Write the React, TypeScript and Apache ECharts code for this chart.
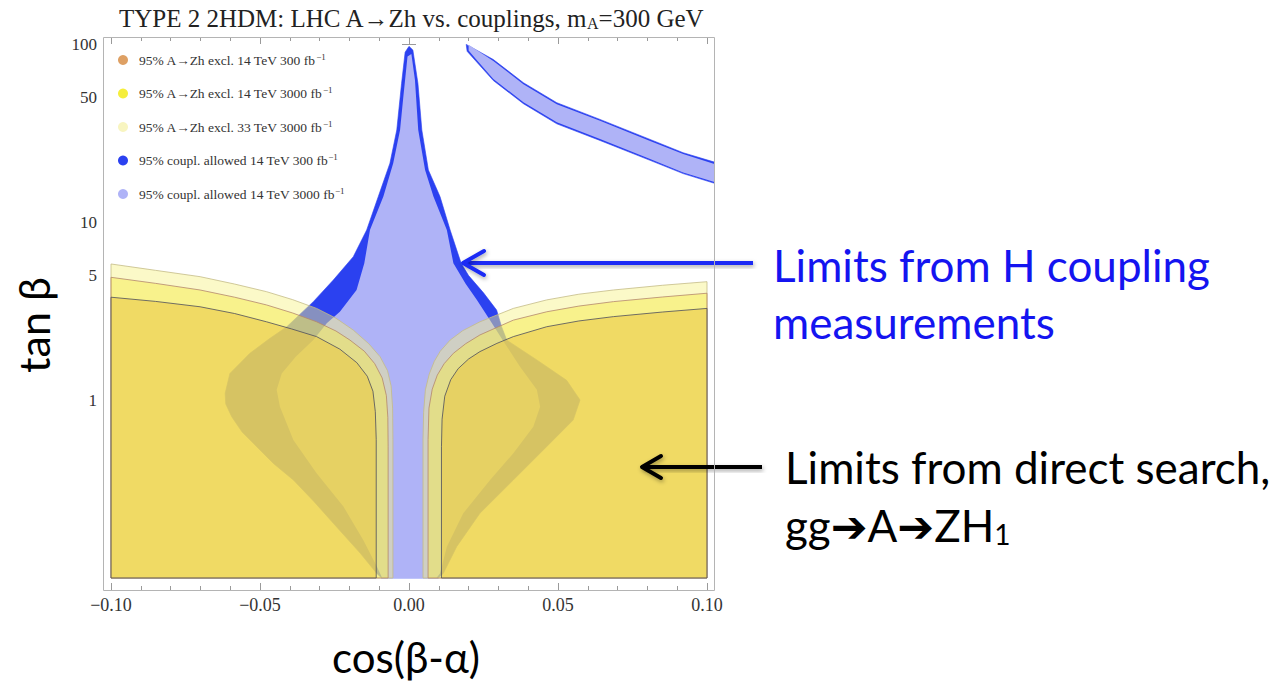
import React, { useEffect, useRef } from 'react';
import * as echarts from 'echarts';

// ---- axis ticks ----
const yTickValues = [1, 5, 10, 50, 100];

// ---- legend names ----
const nameGold = '95% A→Zh excl. 14 TeV 300 fb';
const nameYellow = '95% A→Zh excl. 14 TeV 3000 fb';
const namePale = '95% A→Zh excl. 33 TeV 3000 fb';
const nameBlue = '95% coupl. allowed 14 TeV 300 fb';
const nameLav = '95% coupl. allowed 14 TeV 3000 fb';

// ---- exclusion regions (cos(beta-alpha), tan beta) ----
const goldLeft = [[-0.1,0.1],[-0.1,3.78],[-0.085,3.58],[-0.0701,3.34],[-0.0585,3.06],[-0.0478,2.75],[-0.0395,2.51],[-0.031,2.27],[-0.0232,1.93],[-0.0175,1.62],[-0.014,1.36],[-0.0121,1.12],[-0.0113,0.86],[-0.011,0.6],[-0.011,0.1]];
const goldRight = [[0.0109,0.1],[0.0109,0.55],[0.0111,0.78],[0.012,1.05],[0.014,1.3],[0.0165,1.5],[0.02,1.7],[0.0238,1.87],[0.0295,2.08],[0.035,2.27],[0.0462,2.58],[0.057,2.78],[0.0686,2.94],[0.085,3.12],[0.1,3.27],[0.1,0.1]];
const yellowLeft = [[-0.1,0.1],[-0.1,4.89],[-0.085,4.52],[-0.0701,4.15],[-0.0585,3.78],[-0.0478,3.42],[-0.039,3.08],[-0.031,2.75],[-0.0245,2.44],[-0.0198,2.17],[-0.015,1.88],[-0.0115,1.6],[-0.009,1.33],[-0.0076,1.06],[-0.0071,0.8],[-0.007,0.55],[-0.007,0.1]];
const yellowRight = [[0.0064,0.1],[0.0064,0.6],[0.0067,0.9],[0.0078,1.15],[0.0095,1.38],[0.0118,1.6],[0.0149,1.83],[0.019,2.07],[0.0238,2.32],[0.035,2.81],[0.0462,3.13],[0.057,3.37],[0.0686,3.57],[0.085,3.79],[0.1,3.98],[0.1,0.1]];
const paleLeft = [[-0.1,0.1],[-0.1,5.81],[-0.085,5.35],[-0.0701,4.93],[-0.0585,4.48],[-0.0478,4.06],[-0.039,3.66],[-0.031,3.27],[-0.0245,2.88],[-0.0187,2.47],[-0.0135,2.07],[-0.0097,1.75],[-0.0072,1.46],[-0.006,1.2],[-0.0055,0.9],[-0.0054,0.6],[-0.0054,0.1]];
const paleRight = [[0.0047,0.1],[0.0047,0.6],[0.0049,0.85],[0.0055,1.14],[0.0068,1.4],[0.0085,1.65],[0.0105,1.88],[0.0138,2.17],[0.018,2.45],[0.0238,2.75],[0.035,3.27],[0.0462,3.65],[0.057,3.93],[0.0686,4.15],[0.085,4.41],[0.1,4.62],[0.1,0.1]];

// ---- coupling-allowed regions ----
const blueCentral = [[-0.0092,0.1],[-0.0108,0.106],[-0.0164,0.138],[-0.0254,0.203],[-0.032,0.27],[-0.0388,0.355],[-0.0455,0.44],[-0.0511,0.547],[-0.056,0.66],[-0.0595,0.806],[-0.0615,0.95],[-0.0617,1.09],[-0.0601,1.41],[-0.0534,1.83],[-0.047,2.2],[-0.041,2.58],[-0.0321,3.57],[-0.0254,4.72],[-0.0187,6.38],[-0.0142,9.02],[-0.0103,13.9],[-0.0064,21.4],[-0.0041,32.9],[-0.0025,60],[-0.0013,90],[0,97],[0.0013,92.5],[0.003,60],[0.0043,32.9],[0.0065,19.6],[0.0104,13.9],[0.0138,9.02],[0.0175,5.86],[0.02,5.0],[0.025,4.0],[0.0294,3.2],[0.031,2.6],[0.0328,2.17],[0.0429,1.68],[0.0529,1.29],[0.0574,1.0],[0.0551,0.772],[0.0462,0.547],[0.035,0.355],[0.0238,0.231],[0.016,0.15],[0.0115,0.106],[0.0098,0.1]];
const lavCentral = [[-0.009,0.1],[-0.0108,0.116],[-0.0153,0.163],[-0.022,0.252],[-0.031,0.388],[-0.0388,0.596],[-0.0433,0.917],[-0.0444,1.14],[-0.0427,1.41],[-0.038,1.75],[-0.0321,2.17],[-0.0276,2.7],[-0.0232,3.13],[-0.0176,4.15],[-0.015,5.86],[-0.0131,9.02],[-0.0086,13.9],[-0.0053,21.4],[-0.003,32.9],[-0.0019,50.6],[-0.0005,85],[0.0008,88],[0.002,62.8],[0.0031,32.9],[0.0054,19.6],[0.0082,13.9],[0.0127,9.02],[0.0149,5.86],[0.019,4.5],[0.0228,3.65],[0.0272,2.81],[0.032,2.1],[0.0372,1.54],[0.0429,1.14],[0.044,0.917],[0.0417,0.708],[0.035,0.502],[0.0272,0.355],[0.0182,0.231],[0.0127,0.15],[0.0104,0.106],[0.0092,0.1]];
const blueBand = [[0.0192,99.5],[0.0283,81.8],[0.0384,60.6],[0.0496,46.8],[0.0641,37.7],[0.0809,29.1],[0.092,24.5],[0.1025,21.7],[0.1025,16.5],[0.092,18.7],[0.0809,22.2],[0.0641,28.7],[0.0496,35.6],[0.0384,46.2],[0.0283,62.3],[0.0222,81],[0.0195,91]];
const lavBand = [[0.02,99],[0.0283,80.3],[0.0384,59.5],[0.0496,45.9],[0.0641,37],[0.0809,28.5],[0.092,24.1],[0.1025,21.2],[0.1025,16.8],[0.092,19.0],[0.0809,22.6],[0.0641,29.3],[0.0496,36.3],[0.0384,47.1],[0.0283,63.5],[0.0225,82],[0.02,92]];

const serif = "'Liberation Serif', 'Times New Roman', serif";
const sans = "Lato, 'Open Sans', 'DejaVu Sans', sans-serif";

function regionSeries(name: string, parts: number[][][], legendColor: string, fill: string, stroke: string, lw: number) {
  const data: number[][] = [];
  parts.forEach((p) => p.forEach((pt) => data.push(pt)));
  return {
    type: 'custom',
    name,
    coordinateSystem: 'cartesian2d',
    xAxisIndex: 0,
    yAxisIndex: 0,
    silent: true,
    clip: false,
    itemStyle: { color: legendColor },
    encode: { x: 0, y: 1 },
    data,
    renderItem: (params: any, api: any) => {
      if (params.dataIndex !== 0) return null;
      return {
        type: 'group',
        children: parts.map((p) => ({
          type: 'polygon',
          shape: { points: p.map((pt) => api.coord(pt)) },
          style: { fill, stroke, lineWidth: lw },
        })),
      };
    },
  };
}

const tickLine = { color: '#9a9a9a', width: 1 };
const xBase: any = {
  type: 'value', min: -0.1, max: 0.1, interval: 0.05,
  axisLine: { show: false },
  axisTick: { show: true, inside: true, length: 7, lineStyle: tickLine },
  minorTick: { show: true, splitNumber: 5, length: 4, lineStyle: tickLine },
  splitLine: { show: false }, minorSplitLine: { show: false },
};
const yBase: any = {
  type: 'log', logBase: 10, min: 0.1, max: 100,
  axisLine: { show: false },
  axisTick: { show: true, inside: true, length: 7, customValues: yTickValues, lineStyle: tickLine },
  minorTick: { show: false },
  splitLine: { show: false }, minorSplitLine: { show: false },
};

const fmtX = (v: number) => {
  const r = Math.round(v * 100) / 100;
  return (r < 0 ? '−' : '') + Math.abs(r).toFixed(2);
};

const shadow = { shadowBlur: 4, shadowColor: 'rgba(0,0,0,0.35)', shadowOffsetX: 1, shadowOffsetY: 2 };
const blueArrow = '#1a2cf5';

const option: any = {
  animation: false,
  backgroundColor: '#ffffff',
  grid: { left: 111, top: 44, width: 596, height: 534, containLabel: false },
  xAxis: [
    { ...xBase, position: 'bottom', offset: 12, axisLabel: { margin: 6, fontFamily: serif, fontSize: 18, color: '#333', formatter: fmtX } },
    { ...xBase, position: 'top', offset: 7, axisLabel: { show: false } },
  ],
  yAxis: [
    { ...yBase, position: 'left', offset: 8, axisLabel: { customValues: yTickValues, margin: 6, fontFamily: serif, fontSize: 17, color: '#333', formatter: (v: number) => String(Math.round(v)) } },
    { ...yBase, position: 'right', offset: 7, axisLabel: { show: false } },
  ],
  legend: {
    data: [nameGold, nameYellow, namePale, nameBlue, nameLav],
    orient: 'vertical', left: 118, top: 52, padding: 0, itemWidth: 10, itemHeight: 10, itemGap: 17.5,
    icon: 'circle', selectedMode: false,
    formatter: (n: string) => `{t|${n}}{s|−1}`,
    textStyle: {
      fontFamily: serif, fontSize: 13.5, color: '#333',
      rich: {
        t: { fontFamily: serif, fontSize: 13.5, color: '#333', lineHeight: 14, padding: [0, 0, 0, 6] },
        s: { fontFamily: serif, fontSize: 9, color: '#333', lineHeight: 14, padding: [0, 0, 7, 0] },
      },
    },
  },
  series: [
    regionSeries(nameBlue, [blueCentral, blueBand], '#2b41f0', '#2b41f0', 'rgba(43,65,240,0.6)', 1),
    regionSeries(nameLav, [lavCentral, lavBand], '#afb3f7', '#afb3f7', 'none', 0),
    regionSeries(namePale, [paleLeft, paleRight], '#f8f5c0', 'rgba(246,241,133,0.45)', '#c4bb86', 0.8),
    regionSeries(nameYellow, [yellowLeft, yellowRight], '#f5ee3c', 'rgba(245,236,80,0.5)', '#b4876c', 0.8),
    regionSeries(nameGold, [goldLeft, goldRight], '#dea064', 'rgba(234,199,69,0.56)', '#4d4d5c', 0.8),
  ],
  graphic: [
    { type: 'rect', silent: true, z: 100, shape: { x: 103.5, y: 37.5, width: 611, height: 553 }, style: { fill: 'none', stroke: '#b4b4b4', lineWidth: 1 } },
    { type: 'text', silent: true, x: 411, y: 18, style: { text: 'TYPE 2 2HDM: LHC A→Zh vs. couplings, m{sub|A}=300 GeV', fontFamily: serif, fontSize: 25, fill: '#222', align: 'center', verticalAlign: 'middle', rich: { sub: { fontFamily: serif, fontSize: 16, fill: '#222', padding: [10, 0, 0, 0] } } } },
    { type: 'text', silent: true, x: 33, y: 325, rotation: Math.PI / 2, style: { text: 'tan β', fontFamily: sans, fontSize: 43, fill: '#000', align: 'center', verticalAlign: 'middle' } },
    { type: 'text', silent: true, x: 406, y: 657, style: { text: 'cos(β-α)', fontFamily: sans, fontSize: 42, fill: '#000', align: 'center', verticalAlign: 'middle' } },
    { type: 'rect', silent: true, z: 50, shape: { x: 466, y: 261, width: 287, height: 4 }, style: { fill: blueArrow, ...shadow } },
    { type: 'polyline', silent: true, z: 50, shape: { points: [[484, 251], [463, 263], [484, 275]] }, style: { stroke: blueArrow, lineWidth: 4, fill: 'none', lineJoin: 'round', lineCap: 'round', ...shadow } },
    { type: 'rect', silent: true, z: 50, shape: { x: 645, y: 465, width: 117, height: 4 }, style: { fill: '#000', ...shadow } },
    { type: 'polyline', silent: true, z: 50, shape: { points: [[661, 456], [642, 467], [661, 478]] }, style: { stroke: '#000', lineWidth: 4, fill: 'none', lineJoin: 'round', lineCap: 'round', ...shadow } },
    { type: 'text', silent: true, x: 773, y: 265, style: { text: 'Limits from H coupling', fontFamily: sans, fontSize: 44, fill: '#1414f0', align: 'left', verticalAlign: 'middle' } },
    { type: 'text', silent: true, x: 773, y: 322, style: { text: 'measurements', fontFamily: sans, fontSize: 44, fill: '#1414f0', align: 'left', verticalAlign: 'middle' } },
    { type: 'text', silent: true, x: 785, y: 467, style: { text: 'Limits from direct search,', fontFamily: sans, fontSize: 44, fill: '#000', align: 'left', verticalAlign: 'middle' } },
    { type: 'text', silent: true, x: 785, y: 525, style: { text: 'gg➔A➔ZH{sub|1}', fontFamily: sans, fontSize: 44, fill: '#000', align: 'left', verticalAlign: 'middle', rich: { sub: { fontFamily: sans, fontSize: 28, fill: '#000', padding: [18, 0, 0, 0] } } } },
  ],
};

export default function App() {
  const ref = useRef<HTMLDivElement>(null);
  useEffect(() => {
    const chart = echarts.init(ref.current!, null, { renderer: 'svg' });
    chart.setOption(option);
    return () => chart.dispose();
  }, []);
  return <div ref={ref} style={{ position: 'fixed', left: 0, top: 0, width: 1287, height: 683, background: '#fff' }} />;
}
